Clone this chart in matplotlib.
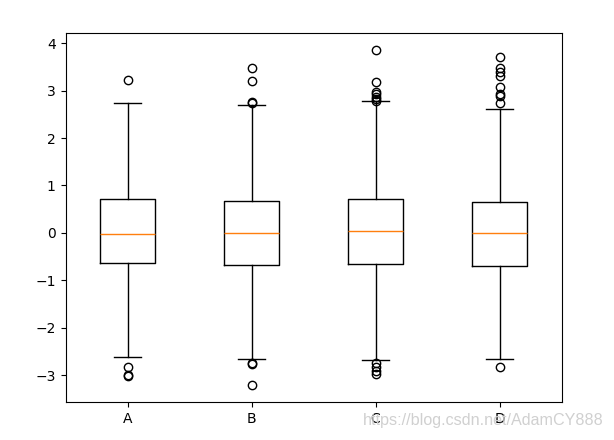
import matplotlib
matplotlib.use("Agg")
import matplotlib.pyplot as plt

labels = ["A", "B", "C", "D"]
q1 = [-0.636, -0.685, -0.663, -0.706]
med = [-0.024, -0.005, 0.033, -0.008]
q3 = [0.708, 0.666, 0.708, 0.645]
whislo = [-2.62, -2.67, -2.68, -2.67]
whishi = [2.747, 2.69, 2.78, 2.61]
fliers_A = [3.22, -2.83, -3.01, -3.03]
fliers_B = [3.47, 3.20, 2.755, 2.73, -2.746, -2.77, -3.21]
fliers_C = [3.86, 3.18, 2.97, 2.92, 2.87, 2.82, 2.79, -2.75, -2.84, -2.91, -2.98]
fliers_D = [3.71, 3.48, 3.39, 3.30, 3.08, 2.93, 2.89, 2.74, -2.84]
fliers = [fliers_A, fliers_B, fliers_C, fliers_D]

stats = []
for i, lab in enumerate(labels):
    stats.append(dict(label=lab, q1=q1[i], med=med[i], q3=q3[i],
                      whislo=whislo[i], whishi=whishi[i], fliers=fliers[i]))

fig = plt.figure(figsize=(6.14, 4.4), dpi=100)
ax = fig.add_axes([65.5 / 614, (440 - 402.3) / 440, 496 / 614, 369 / 440])
ax.bxp(stats)
ax.set_ylim(-3.576, 4.211)
ax.set_xlim(0.5, 4.5)

fig.text(604 / 614, 20 / 440, "https://blog.csdn.net/AdamCY888", ha="right", va="center",
         fontsize=11.6, color="#d0d0d0", family="Liberation Sans")

fig.savefig("out.png", dpi=100)
